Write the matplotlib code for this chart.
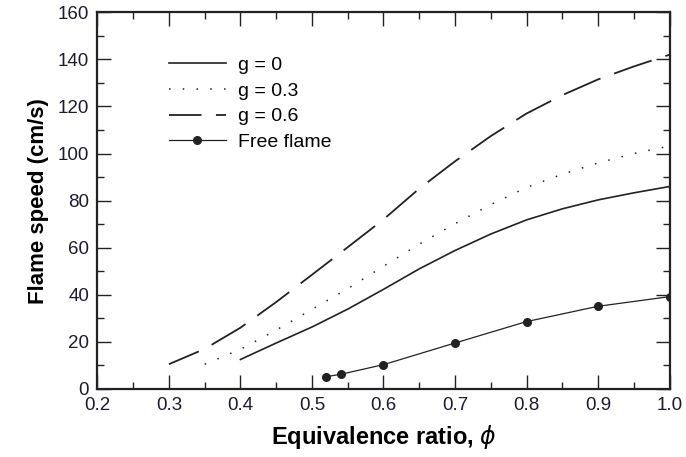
import matplotlib
matplotlib.use("Agg")
import matplotlib.pyplot as plt
from matplotlib.ticker import MultipleLocator

# Data
phi_g0 = [0.40, 0.45, 0.50, 0.55, 0.60, 0.65, 0.70, 0.75, 0.80, 0.85, 0.90, 0.95, 1.00]
speed_g0 = [12.5, 19.5, 26.3, 33.9, 42.3, 51.0, 58.8, 65.8, 71.8, 76.5, 80.3, 83.3, 86.0]

phi_g03 = [0.35, 0.40, 0.45, 0.50, 0.55, 0.60, 0.65, 0.70, 0.75, 0.80, 0.85, 0.90, 0.95, 1.00]
speed_g03 = [10.5, 16.8, 25.0, 33.8, 42.6, 52.1, 61.5, 70.2, 78.3, 85.6, 91.2, 96.0, 100.0, 103.2]

phi_g06 = [0.30, 0.35, 0.40, 0.45, 0.50, 0.55, 0.60, 0.65, 0.70, 0.75, 0.80, 0.85, 0.90, 0.95, 1.00]
speed_g06 = [10.5, 17.0, 26.0, 36.9, 48.5, 60.2, 72.0, 85.1, 96.7, 107.4, 117.0, 124.8, 131.5, 137.0, 142.0]

phi_free = [0.52, 0.54, 0.60, 0.70, 0.80, 0.90, 1.00]
speed_free = [5.2, 6.2, 10.3, 19.5, 28.6, 35.1, 39.2]

plt.rcParams['font.family'] = ['Liberation Sans', 'DejaVu Sans']
plt.rcParams['mathtext.fontset'] = 'dejavusans'

fig = plt.figure(figsize=(6.86, 4.57), dpi=100)
ax = fig.add_axes([0.142, 0.149, 0.834, 0.824])

ax.plot(phi_g0, speed_g0, color='#222222', lw=1.2, label='g = 0')
ax.plot(phi_g03, speed_g03, color='#222222', lw=1.1, linestyle=(0, (1, 8)), label='g = 0.3')
ax.plot(phi_g06, speed_g06, color='#222222', lw=1.3, linestyle=(4, (22, 8)), label='g = 0.6')
ax.plot(phi_free, speed_free, color='#222222', lw=0.9, marker='o', markersize=5.5,
        label='Free flame')

ax.set_xlim(0.2, 1.0)
ax.set_ylim(0, 160)
ax.xaxis.set_major_locator(MultipleLocator(0.1))
ax.xaxis.set_minor_locator(MultipleLocator(0.05))
ax.yaxis.set_major_locator(MultipleLocator(20))
ax.yaxis.set_minor_locator(MultipleLocator(10))
ax.set_xticks([0.2, 0.3, 0.4, 0.5, 0.6, 0.7, 0.8, 0.9, 1.0])
ax.set_xticklabels(['0.2', '0.3', '0.4', '0.5', '0.6', '0.7', '0.8', '0.9', '1.0'])

ax.tick_params(which='both', direction='in', top=True, right=True, labelsize=13.5,
               labelcolor='#1c1c30', width=1.0, color='#222222')
ax.tick_params(which='major', length=10, pad=6)
ax.tick_params(which='minor', length=5)
for s in ax.spines.values():
    s.set_linewidth(1.6)
    s.set_color('#222222')

ax.set_xlabel(r'Equivalence ratio, $\phi$', fontsize=17, fontweight='bold', labelpad=6)
ax.set_ylabel('Flame speed (cm/s)', fontsize=16, fontweight='bold', labelpad=6)

ax.legend(loc='upper left', bbox_to_anchor=(0.095, 0.93), frameon=False, fontsize=14,
          handlelength=2.9, handletextpad=0.65, labelspacing=0.42)

fig.savefig('out.png', dpi=100)
